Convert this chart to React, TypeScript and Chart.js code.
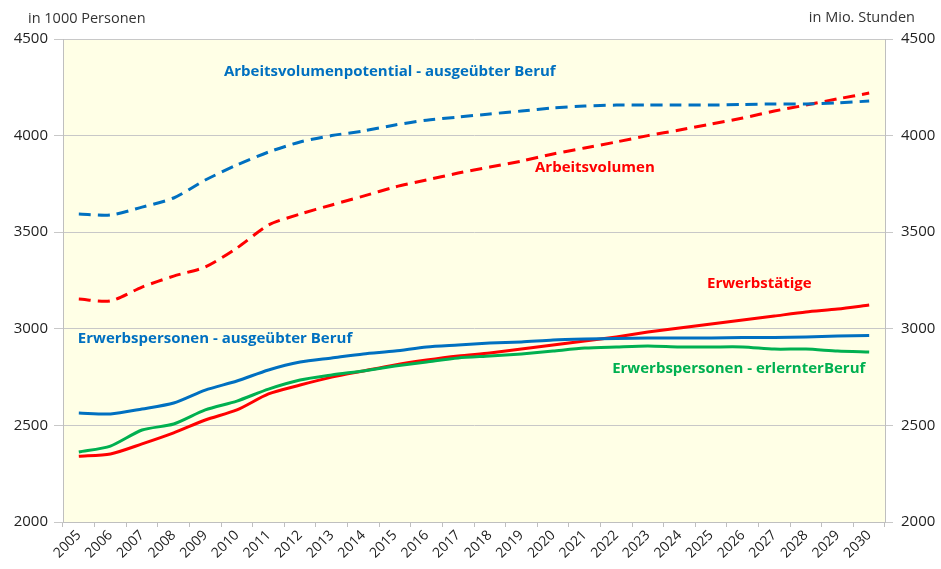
import React, { useEffect, useRef } from "react";
import { Chart, registerables } from "chart.js";

Chart.register(...registerables);

const years = [
  "2005", "2006", "2007", "2008", "2009", "2010", "2011", "2012", "2013",
  "2014", "2015", "2016", "2017", "2018", "2019", "2020", "2021", "2022",
  "2023", "2024", "2025", "2026", "2027", "2028", "2029", "2030",
];

const arbeitsvolumenpotential = [
  3594, 3589, 3630, 3677, 3770, 3848, 3915, 3967, 4000, 4024, 4055, 4080, 4096,
  4112, 4127, 4143, 4153, 4158, 4158, 4158, 4158, 4161, 4164, 4164, 4169, 4179,
];

const arbeitsvolumen = [
  3154, 3144, 3216, 3273, 3320, 3418, 3537, 3594, 3641, 3687, 3734, 3770, 3806,
  3837, 3868, 3905, 3936, 3967, 4000, 4029, 4060, 4091, 4127, 4158, 4190, 4220,
];

const erwerbspersonenAusgeuebt = [
  2564, 2559, 2585, 2616, 2683, 2730, 2787, 2828, 2849, 2870, 2885, 2906, 2916,
  2926, 2932, 2942, 2947, 2950, 2952, 2952, 2952, 2955, 2955, 2958, 2963, 2965,
];

const erwerbspersonenErlernt = [
  2362, 2393, 2476, 2507, 2580, 2626, 2688, 2735, 2761, 2782, 2807, 2828, 2849,
  2859, 2870, 2885, 2900, 2906, 2911, 2906, 2906, 2906, 2895, 2895, 2885, 2880,
];

const erwerbstaetige = [
  2340, 2352, 2404, 2461, 2528, 2580, 2663, 2709, 2750, 2782, 2813, 2838, 2859,
  2875, 2895, 2916, 2937, 2958, 2983, 3004, 3025, 3045, 3066, 3087, 3102, 3123,
];

const yTicks = [2000, 2500, 3000, 3500, 4000, 4500];

const leftTitle = "in 1000 Personen";
const rightTitle = "in Mio. Stunden";

// series labels: text, colour, anchor (category index, value)
const seriesLabels = [
  { text: "Arbeitsvolumenpotential - ausgeübter Beruf", color: "#0070C0", idx: 4.59, val: 4329 },
  { text: "Arbeitsvolumen", color: "#FF0000", idx: 14.43, val: 3832 },
  { text: "Erwerbstätige", color: "#FF0000", idx: 19.87, val: 3232 },
  { text: "Erwerbspersonen - ausgeübter Beruf", color: "#0070C0", idx: -0.03, val: 2947 },
  { text: "Erwerbspersonen - erlernterBeruf", color: "#00B050", idx: 16.87, val: 2792 },
];

const FONT = "'Open Sans', sans-serif";

export default function App() {
  const ref = useRef<HTMLCanvasElement | null>(null);

  useEffect(() => {
    if (!ref.current) return;

    const bgPlugin = {
      id: "bgPlugin",
      beforeDraw(chart: any) {
        const { ctx, chartArea } = chart;
        ctx.save();
        ctx.fillStyle = "#FFFFE6";
        ctx.fillRect(chartArea.left, chartArea.top, chartArea.right - chartArea.left, chartArea.bottom - chartArea.top);
        ctx.restore();
      },
      afterDraw(chart: any) {
        const { ctx } = chart;
        const xs = chart.scales.x;
        const ys = chart.scales.y;
        ctx.save();
        ctx.font = `14.5px ${FONT}`;
        ctx.fillStyle = "#333333";
        ctx.textBaseline = "middle";
        ctx.textAlign = "left";
        ctx.fillText(leftTitle, 28, 19);
        ctx.textAlign = "right";
        ctx.fillText(rightTitle, 915, 18);
        ctx.font = `bold 15px ${FONT}`;
        ctx.textAlign = "left";
        const step = xs.getPixelForValue(1) - xs.getPixelForValue(0);
        const x0 = xs.getPixelForValue(0);
        for (const l of seriesLabels) {
          ctx.fillStyle = l.color;
          ctx.fillText(l.text, x0 + l.idx * step, ys.getPixelForValue(l.val));
        }
        ctx.restore();
      },
    };

    const common = {
      borderWidth: 3,
      pointRadius: 0,
      tension: 0.25,
      fill: false,
    };

    const chart = new Chart(ref.current, {
      type: "line",
      data: {
        labels: years,
        datasets: [
          { ...common, label: "Arbeitsvolumenpotential - ausgeübter Beruf", data: arbeitsvolumenpotential, borderColor: "#0070C0", borderDash: [12, 7], yAxisID: "y2" },
          { ...common, label: "Arbeitsvolumen", data: arbeitsvolumen, borderColor: "#FF0000", borderDash: [12, 7], yAxisID: "y2" },
          { ...common, label: "Erwerbspersonen - ausgeübter Beruf", data: erwerbspersonenAusgeuebt, borderColor: "#0070C0", yAxisID: "y" },
          { ...common, label: "Erwerbspersonen - erlernterBeruf", data: erwerbspersonenErlernt, borderColor: "#00B050", yAxisID: "y" },
          { ...common, label: "Erwerbstätige", data: erwerbstaetige, borderColor: "#FF0000", yAxisID: "y" },
        ],
      },
      plugins: [bgPlugin],
      options: {
        responsive: false,
        animation: false,
        layout: { padding: { top: 39, left: 0, right: 0, bottom: 0 } },
        plugins: {
          legend: { display: false },
          tooltip: { enabled: false },
        },
        scales: {
          x: {
            type: "category",
            offset: true,
            afterFit(scale: any) {
              scale.height = 47;
            },
            grid: {
              offset: true,
              drawOnChartArea: false,
              drawTicks: true,
              tickLength: 5,
              color: "#BFBFBF",
              lineWidth: 1,
            },
            border: { display: true, color: "#BFBFBF", width: 1 },
            ticks: {
              autoSkip: false,
              minRotation: 45,
              maxRotation: 45,
              padding: 0,
              color: "#222222",
              font: { family: FONT, size: 14 },
            },
          },
          y: {
            position: "left",
            min: 2000,
            max: 4500,
            afterFit(scale: any) {
              scale.width = 63;
            },
            afterBuildTicks(scale: any) {
              scale.ticks = yTicks.map((v) => ({ value: v }));
            },
            grid: {
              color: "#C8C8C8",
              lineWidth: 1,
              drawTicks: true,
              tickLength: 9,
            },
            border: { display: true, color: "#BFBFBF", width: 1 },
            ticks: {
              padding: 6,
              color: "#222222",
              font: { family: FONT, size: 15 },
              callback: (v: any) => String(v),
            },
          },
          y2: {
            position: "right",
            min: 2000,
            max: 4500,
            afterFit(scale: any) {
              scale.width = 56;
            },
            afterBuildTicks(scale: any) {
              scale.ticks = yTicks.map((v) => ({ value: v }));
            },
            grid: {
              drawOnChartArea: false,
              color: "#C8C8C8",
              drawTicks: true,
              tickLength: 8,
            },
            border: { display: true, color: "#BFBFBF", width: 1 },
            ticks: {
              padding: 8,
              color: "#222222",
              font: { family: FONT, size: 15 },
              callback: (v: any) => String(v),
            },
          },
        },
      },
    } as any);

    return () => chart.destroy();
  }, []);

  return (
    <div style={{ position: "absolute", left: 0, top: 0, width: 941, height: 569, background: "#ffffff" }}>
      <canvas ref={ref} width={941} height={569} style={{ display: "block" }} />
    </div>
  );
}
